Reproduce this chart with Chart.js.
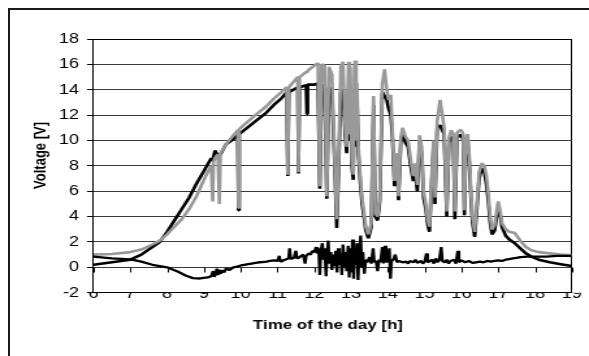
<!DOCTYPE html>
<html><head><meta charset="utf-8">
<script src="https://cdn.jsdelivr.net/npm/chart.js@4.4.1/dist/chart.umd.min.js"></script>
<style>
html,body{margin:0;padding:0;background:#fff;overflow:hidden;width:589px;height:356px}
#frame{position:absolute;left:8px;top:8px;width:640px;height:400px;border-left:2px solid #1a1a1a;border-top:2px solid #1a1a1a;box-sizing:border-box}
#wrap{position:absolute;left:0;top:0;width:453px;height:356px;transform:scaleX(1.3002);transform-origin:0 0}
#c{display:block}
</style></head>
<body>
<div id="frame"></div>
<div id="wrap"><canvas id="c" width="453" height="356"></canvas></div>
<script>
// ---- data ----
const xTickValues = [6,7,8,9,10,11,12,13,14,15,16,17,18,19];
const yTickValues = [-2,0,2,4,6,8,10,12,14,16,18];
const xTitle = 'Time of the day [h]';
const yTitle = 'Voltage [V]';

const timeHours = [6.00,6.50,7.00,7.30,7.60,7.80,8.00,8.20,8.40,8.60,8.80,9.00,9.10,9.20,9.24,9.26,9.30,9.38,9.42,9.45,9.60,9.80,9.92,9.94,9.96,10.20,10.44,10.70,10.90,11.10,11.25,11.28,11.31,11.55,11.57,11.60,11.78,11.80,11.82,12.00,12.10,12.15,12.20,12.28,12.34,12.40,12.48,12.55,12.61,12.66,12.72,12.78,12.84,12.88,12.93,12.96,12.98,13.02,13.06,13.09,13.11,13.14,13.16,13.20,13.25,13.30,13.40,13.47,13.55,13.61,13.66,13.72,13.78,13.85,13.91,13.97,14.02,14.08,14.12,14.18,14.22,14.26,14.29,14.35,14.40,14.48,14.55,14.62,14.69,14.74,14.80,14.86,14.92,14.97,15.03,15.08,15.13,15.18,15.24,15.28,15.34,15.42,15.48,15.53,15.60,15.66,15.72,15.78,15.82,15.88,15.95,16.00,16.05,16.08,16.12,16.17,16.22,16.26,16.30,16.36,16.42,16.48,16.55,16.62,16.68,16.73,16.78,16.83,16.90,16.96,17.00,17.05,17.10,17.20,17.30,17.45,17.60,17.75,17.90,18.10,18.40,18.70,19.00];

const grayVolts = [1.00,1.05,1.20,1.40,1.80,2.10,2.60,3.20,3.80,4.60,5.60,6.90,7.50,8.00,5.20,8.30,8.60,8.90,5.00,9.00,9.70,10.40,10.80,4.70,10.90,11.50,12.10,12.70,13.30,13.80,14.20,7.30,14.20,15.00,7.50,15.00,15.40,15.40,15.50,15.90,16.10,6.40,16.00,15.90,5.60,15.80,15.20,9.00,3.80,8.00,15.80,16.20,11.00,9.50,16.20,10.50,15.80,8.50,7.30,15.50,16.30,10.00,14.50,9.50,7.20,5.50,3.20,2.60,3.50,13.50,4.30,4.00,5.50,14.50,15.60,14.00,13.20,13.60,11.00,6.80,9.00,8.00,5.60,10.20,11.00,10.30,10.00,8.50,7.20,8.20,6.50,10.40,9.50,6.00,5.00,3.80,3.20,6.50,10.00,5.50,11.50,13.20,12.00,11.00,4.40,10.20,10.80,10.50,4.40,10.60,10.80,10.80,10.50,4.50,10.00,10.50,8.50,5.80,4.00,2.80,5.00,7.50,8.20,8.00,7.20,5.80,4.00,3.00,3.30,4.50,5.20,4.50,3.50,3.00,2.80,2.70,2.10,1.60,1.35,1.20,1.10,1.00,0.95];

const blackVolts = [0.20,0.40,0.60,1.00,1.60,2.00,2.80,3.70,4.60,5.50,6.60,7.60,8.10,8.60,8.40,8.70,9.20,8.80,8.80,8.90,9.70,10.10,10.40,4.50,10.50,11.05,11.60,12.20,12.80,13.30,13.80,7.20,13.80,14.20,7.40,14.20,14.35,12.10,14.40,14.40,14.50,6.20,14.40,14.30,5.40,14.20,13.80,8.50,3.10,7.50,13.80,14.00,10.50,9.00,14.00,10.00,14.00,8.00,6.90,14.00,14.00,9.50,13.50,9.00,6.70,5.00,2.90,2.30,3.20,12.80,4.00,3.70,5.20,13.80,13.50,13.20,12.50,12.00,10.50,6.40,8.70,7.50,5.30,9.80,10.50,9.80,9.50,8.00,6.80,7.50,6.00,9.80,9.00,5.50,4.60,3.40,2.80,6.00,9.50,5.00,11.00,11.20,10.80,10.50,4.00,9.80,10.30,10.00,3.80,10.20,10.40,10.40,10.00,4.10,9.60,10.00,8.00,5.40,3.50,2.40,4.60,7.00,7.80,7.50,6.50,5.20,3.50,2.60,2.90,4.00,4.80,4.20,3.20,2.50,2.20,1.90,1.50,1.10,0.85,0.60,0.40,0.25,0.10];

const lowTimes = [6.0,6.5,7.0,7.3,7.6,8.0,8.3,8.5,8.7,8.9,9.1,9.2,9.25,9.28,9.32,9.35,9.38,9.42,9.45,9.5,9.55,9.6,9.7,9.8,9.9,10.0,10.1,10.2,10.3,10.4,10.5,10.6,10.7,10.8,10.9,11.0,11.05,11.08,11.2,11.3,11.33,11.36,11.45,11.5,11.53,11.6,11.7,11.75,11.78,11.85,11.9,11.95,12.0,12.05,12.08,12.12,12.15,12.18,12.22,12.25,12.28,12.32,12.35,12.38,12.41,12.45,12.48,12.52,12.55,12.58,12.62,12.65,12.68,12.72,12.75,12.78,12.82,12.85,12.88,12.92,12.95,12.98,13.01,13.04,13.07,13.1,13.13,13.16,13.19,13.22,13.26,13.29,13.32,13.36,13.4,13.45,13.5,13.55,13.6,13.63,13.68,13.72,13.76,13.8,13.85,13.88,13.92,13.95,14.0,14.04,14.07,14.1,14.15,14.2,14.25,14.3,14.4,14.5,14.55,14.6,14.7,14.75,14.8,14.9,14.95,15.0,15.05,15.08,15.15,15.2,15.25,15.3,15.35,15.4,15.45,15.48,15.55,15.6,15.65,15.7,15.8,15.85,15.9,15.93,16.0,16.1,16.2,16.3,16.4,16.5,16.6,16.7,16.8,16.9,17.0,17.1,17.2,17.3,17.4,17.5,17.6,17.8,18.0,18.3,18.6,19.0];

const lowVolts = [0.85,0.7,0.62,0.45,0.2,0.0,-0.35,-0.65,-0.85,-0.88,-0.8,-0.7,-0.3,-0.75,-0.55,-0.1,-0.6,-0.2,-0.5,-0.25,-0.4,-0.1,-0.2,0.0,0.05,0.15,0.2,0.25,0.3,0.35,0.4,0.42,0.45,0.5,0.55,0.5,0.9,0.45,0.6,0.7,1.5,0.65,0.75,1.3,0.7,0.8,1.0,0.3,0.9,1.1,1.0,1.3,1.2,1.6,1.1,1.5,-0.6,1.3,1.9,0.6,1.5,-0.7,1.0,2.1,0.3,1.2,-0.2,1.0,0.1,1.3,-0.4,1.5,0.2,1.1,-0.6,1.8,0.0,1.2,-0.3,1.7,-0.8,1.5,-0.3,2.2,-0.9,1.4,0.2,1.9,-1.0,1.0,2.5,0.0,1.2,-0.5,0.6,0.4,0.8,0.3,1.5,0.4,0.5,-0.3,0.6,0.4,1.6,0.3,1.7,0.4,0.5,1.5,-0.9,0.5,0.6,1.0,0.4,0.5,0.4,0.45,0.3,0.5,0.4,0.6,0.35,0.5,0.3,0.45,1.1,0.4,0.5,0.6,0.3,0.7,0.4,0.6,1.6,0.5,0.4,0.6,0.3,0.5,0.6,0.3,1.3,0.4,0.55,0.4,0.5,0.35,0.4,0.45,0.4,0.5,0.45,0.5,0.55,0.5,0.6,0.65,0.7,0.75,0.8,0.85,0.85,0.85,0.9,0.9];

// ---- chart ----
const FONT = "'Liberation Sans', Arial, sans-serif";
const pts = (xs, ys) => xs.map((x, i) => ({x, y: ys[i]}));

const decor = {
  id: 'decor',
  beforeDatasetsDraw(chart) {
    const {ctx, scales: {x, y}} = chart;
    const y0 = Math.round(y.getPixelForValue(0)) + 0.5;
    ctx.save();
    ctx.strokeStyle = '#000';
    ctx.lineWidth = 1;
    ctx.beginPath();
    xTickValues.forEach(v => {
      const px = Math.round(x.getPixelForValue(v)) + 0.5;
      ctx.moveTo(px, y0);
      ctx.lineTo(px, y0 + 5);
    });
    ctx.stroke();
    ctx.restore();
  },
  afterDraw(chart) {
    const {ctx, chartArea: a} = chart;
    ctx.save();
    ctx.fillStyle = '#000';
    ctx.font = 'bold 13px ' + FONT;
    ctx.textAlign = 'center';
    ctx.textBaseline = 'middle';
    ctx.fillText(xTitle, (a.left + a.right) / 2 - 3.6, 325);
    ctx.translate(a.left - 40.4, (a.top + a.bottom) / 2 - 10.4);
    ctx.rotate(-Math.PI / 2);
    ctx.fillText(yTitle, 0, 0);
    ctx.restore();
  }
};

new Chart(document.getElementById('c'), {
  type: 'line',
  data: {
    datasets: [
      {data: pts(lowTimes, lowVolts), borderColor: '#000', borderWidth: 2.3},
      {data: pts(timeHours, grayVolts), borderColor: '#999999', borderWidth: 2.6},
      {data: pts(timeHours, blackVolts), borderColor: '#000', borderWidth: 2.6}
    ]
  },
  options: {
    responsive: false,
    animation: false,
    events: [],
    parsing: false,
    layout: {padding: {left: 0, top: 39, right: 13.2, bottom: 0}},
    elements: {
      point: {radius: 0},
      line: {tension: 0, borderJoinStyle: 'bevel', fill: false}
    },
    plugins: {legend: {display: false}, tooltip: {enabled: false}, title: {display: false}},
    scales: {
      x: {
        type: 'linear', min: 6, max: 19,
        afterBuildTicks: s => { s.ticks = xTickValues.map(v => ({value: v})); },
        afterFit: s => { s.height = 63.3; },
        ticks: {padding: -7, color: '#000', font: {family: FONT, size: 14}, maxRotation: 0, autoSkip: false},
        grid: {drawTicks: false, drawOnChartArea: true, color: c => (c.tick && c.tick.value === 19) ? '#000' : 'rgba(0,0,0,0)'},
        border: {display: true, color: '#000', width: 1}
      },
      y: {
        min: -2, max: 18,
        afterBuildTicks: s => { s.ticks = yTickValues.map(v => ({value: v})); },
        afterFit: s => { s.width = 71.9; },
        ticks: {padding: 6, color: '#000', font: {family: FONT, size: 14}},
        grid: {drawTicks: true, tickLength: 5, tickColor: '#000', color: c => (c.tick && (c.tick.value === 18 || c.tick.value === -2)) ? '#000' : '#3a3a3a'},
        border: {display: true, color: '#000', width: 1}
      }
    }
  },
  plugins: [decor]
});
</script>
</body></html>
